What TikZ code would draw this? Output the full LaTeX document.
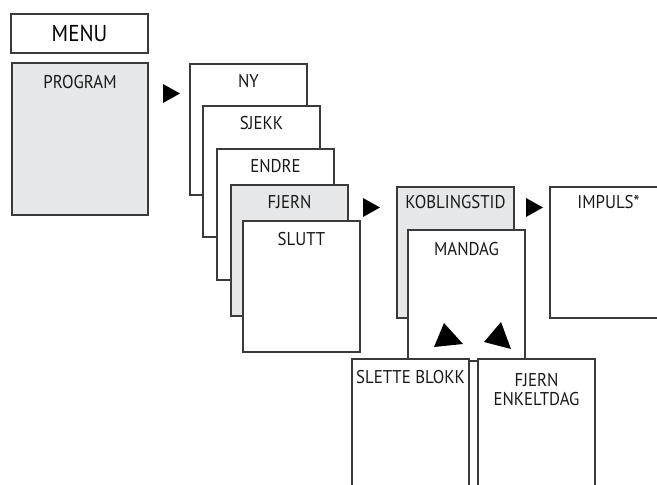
\documentclass[tikz,border=0pt]{standalone}
\usepackage{fontspec}
\setmainfont[FakeStretch=0.91]{PT Sans}
\definecolor{menugray}{HTML}{E6E7E8}
\definecolor{framegray}{HTML}{3A3A3A}
\begin{document}
\begin{tikzpicture}[x=1pt, y=-1pt,
    box/.style={draw=framegray, line width=1.2pt, fill=white, anchor=north west,
      minimum width=117pt, minimum height=131pt, inner sep=0pt, outer sep=0pt},
    greybox/.style={box, fill=menugray},
    lbl/.style={anchor=base, inner sep=0pt, align=center,
      font=\fontsize{18.5}{19.5}\selectfont, text=black!90},
    tri/.style={fill=black}]
    \useasboundingbox (0,0) rectangle (657,485);
    \clip (0,0) rectangle (657,485);
    \node[box, minimum width=137pt, minimum height=39pt,
      font=\fontsize{23}{24}\selectfont] (menu) at (11,14) {MENU};
    \node[greybox, minimum width=136pt, minimum height=152pt] (program) at (12,63) {};
    \node[lbl] (programtxt) at ([yshift=-25pt]program.north) {PROGRAM};
    \fill[tri] ([shift={(15,21)}]program.north east) -- ++(17,9.5) -- ++(-17,9.5) -- cycle;
    \node[box] (ny) at (190,64) {};
    \node[lbl] (nytxt) at ([yshift=-23pt]ny.north) {NY};
    \node[box] (sjekk) at (203,106) {};
    \node[lbl] (sjekktxt) at ([yshift=-23pt]sjekk.north) {SJEKK};
    \node[box] (endre) at (217,149) {};
    \node[lbl] (endretxt) at ([yshift=-23pt]endre.north) {ENDRE};
    \node[greybox] (fjern) at (231,185) {};
    \node[lbl] (fjerntxt) at ([yshift=-23pt]fjern.north) {FJERN};
    \node[box] (slutt) at (243,221) {};
    \node[lbl] (slutttxt) at ([yshift=-24pt]slutt.north) {SLUTT};
    \fill[tri] ([shift={(15,13)}]fjern.north east) -- ++(17,9.5) -- ++(-17,9.5) -- cycle;
    \node[greybox] (kobling) at (397,187) {};
    \node[lbl] (koblingtxt) at ([yshift=-21pt]kobling.north) {KOBLINGSTID};
    \fill[tri] ([shift={(12,11)}]kobling.north east) -- ++(17,9.5) -- ++(-17,9.5) -- cycle;
    \node[box] (impuls) at (550,187) {};
    \node[lbl] (impulstxt) at ([yshift=-21pt]impuls.north) {IMPULS*};
    \node[box] (mandag) at (408,230) {};
    \node[lbl] (mandagtxt) at ([yshift=-25pt]mandag.north) {MANDAG};
    \fill[tri] (434,347) -- (444,323) -- (463,344) -- cycle;
    \fill[tri] (484,342) -- (501,322) -- (511,349) -- cycle;
    \node[box] (slette) at (352,359) {};
    \node[lbl] (slettetxt) at ([yshift=-24pt]slette.north) {SLETTE BLOKK};
    \node[box] (enkeltdag) at (478,359) {};
    \node[lbl, anchor=north] (enkeltdagtxt) at ([yshift=-14pt]enkeltdag.north) {FJERN\\ENKELTDAG};
\end{tikzpicture}
\end{document}
